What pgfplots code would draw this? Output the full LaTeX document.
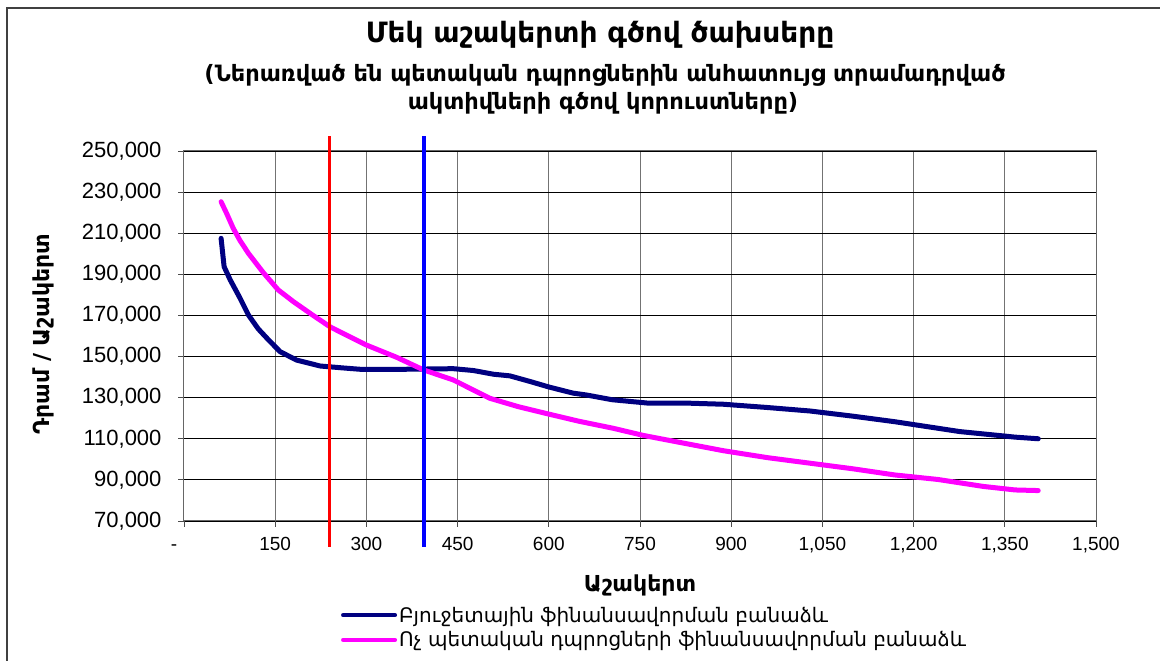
\documentclass[border=0pt]{standalone}
\usepackage{fontspec}
\setmainfont{Liberation Sans}
\newfontfamily\arm{DejaVu Sans}
\usepackage{pgfplots}
\pgfplotsset{compat=1.18}

\definecolor{navyline}{HTML}{000080}
\definecolor{pinkline}{HTML}{FF00FF}

\begin{document}
\begin{tikzpicture}
\path[use as bounding box] (0pt,0pt) rectangle (1160pt,661pt);
\draw[line width=2.5pt, black!75] (7pt,-20pt) -- (7pt,653pt) -- (1180pt,653pt);

\node[font=\arm\bfseries\fontsize{28}{32}\selectfont] at (600pt,626pt) {Մեկ աշակերտի գծով ծախսերը};
\node[font=\arm\bfseries\fontsize{22.5}{26}\selectfont] at (605pt,586pt) {(Ներառված են պետական դպրոցներին անհատույց տրամադրված};
\node[font=\arm\bfseries\fontsize{22.5}{26}\selectfont] at (603pt,558pt) {ակտիվների գծով կորուստները)};

\begin{axis}[
    at={(184pt,140pt)}, anchor=south west,
    scale only axis, width=912pt, height=370pt,
    xmin=0, xmax=1500, ymin=70000, ymax=250000,
    clip=false, scaled y ticks=false,
    xtick={0,150,...,1500},
    xticklabels={{\hspace*{-20pt}-},150,300,450,600,750,900,{1,050},{1,200},{1,350},{1,500}},
    ytick={70000,90000,...,250000},
    yticklabels={{70,000},{90,000},{110,000},{130,000},{150,000},{170,000},{190,000},{210,000},{230,000},{250,000}},
    x tick label style={font=\fontsize{19}{22}\selectfont, yshift=-6pt, text height=14pt, text depth=0pt},
    y tick label style={font=\fontsize{22}{26}\selectfont, xshift=-13pt},
    tick align=outside, tick pos=left,
    major tick length=6pt,
    tick style={black!70, line width=0.8pt},
    grid=major,
    major x grid style={black!55, line width=1pt},
    major y grid style={black, line width=0.8pt},
    axis line style={black!60, line width=1pt},
    xlabel={\arm\bfseries Աշակերտ},
    xlabel style={font=\fontsize{22}{26}\selectfont, at={(axis description cs:0.5,0)}, anchor=center, yshift=-64pt},
    ylabel={\arm\bfseries Դրամ / Աշակերտ},
    ylabel style={font=\fontsize{22}{26}\selectfont, at={(axis description cs:-0.154,0.505)}, anchor=center},
    legend style={at={(axis description cs:0.172,-0.226)}, anchor=north west, draw=none, fill=none,
        font=\arm\fontsize{20}{24}\selectfont, row sep=4pt, inner sep=0pt,
        /tikz/every even column/.append style={column sep=0pt}},
    legend cell align=left,
    legend image code/.code={\draw[#1, line width=4pt] (0pt,0pt) -- (52pt,0pt);},
]
\addplot[navyline, line width=5pt, line join=round, line cap=round] coordinates {
    (61,207500) (66,193700) (76,187300) (92,178500) (106,170200) (122,163500) (139,158100)
    (158,152400) (185,148300) (224,145400) (260,144500) (290,143800) (360,143800)
    (443,144100) (476,143200) (509,141400) (536,140600) (570,137800) (600,135200)
    (640,132200) (662,131300) (704,129000) (765,127300) (832,127300) (887,126800)
    (960,125200) (1030,123500) (1100,121000) (1169,118300) (1276,113500) (1367,110800)
    (1405,110000)
};
\addlegendentry{Բյուջետային ֆինանսավորման բանաձև}
\addplot[pinkline, line width=5pt, line join=round, line cap=round] coordinates {
    (61,225300) (70,219700) (81,212400) (92,206500) (106,200200) (130,191000) (155,182400)
    (180,176700) (210,170500) (240,164500) (270,160000) (300,155600) (350,149600)
    (394,143500) (443,138600) (503,129700) (550,125600) (600,122000) (650,118500)
    (706,115100) (756,111600) (816,108200) (887,104200) (960,100800) (1030,98100)
    (1100,95400) (1169,92400) (1240,90200) (1315,86800) (1367,85100) (1405,84800)
};
\addlegendentry{Ոչ պետական դպրոցների ֆինանսավորման բանաձև}
\addplot[red, line width=3pt, forget plot] coordinates {(240,57400) (240,257300)};
\addplot[blue, line width=4pt, forget plot] coordinates {(395,57400) (395,257300)};
\end{axis}
\end{tikzpicture}
\end{document}
